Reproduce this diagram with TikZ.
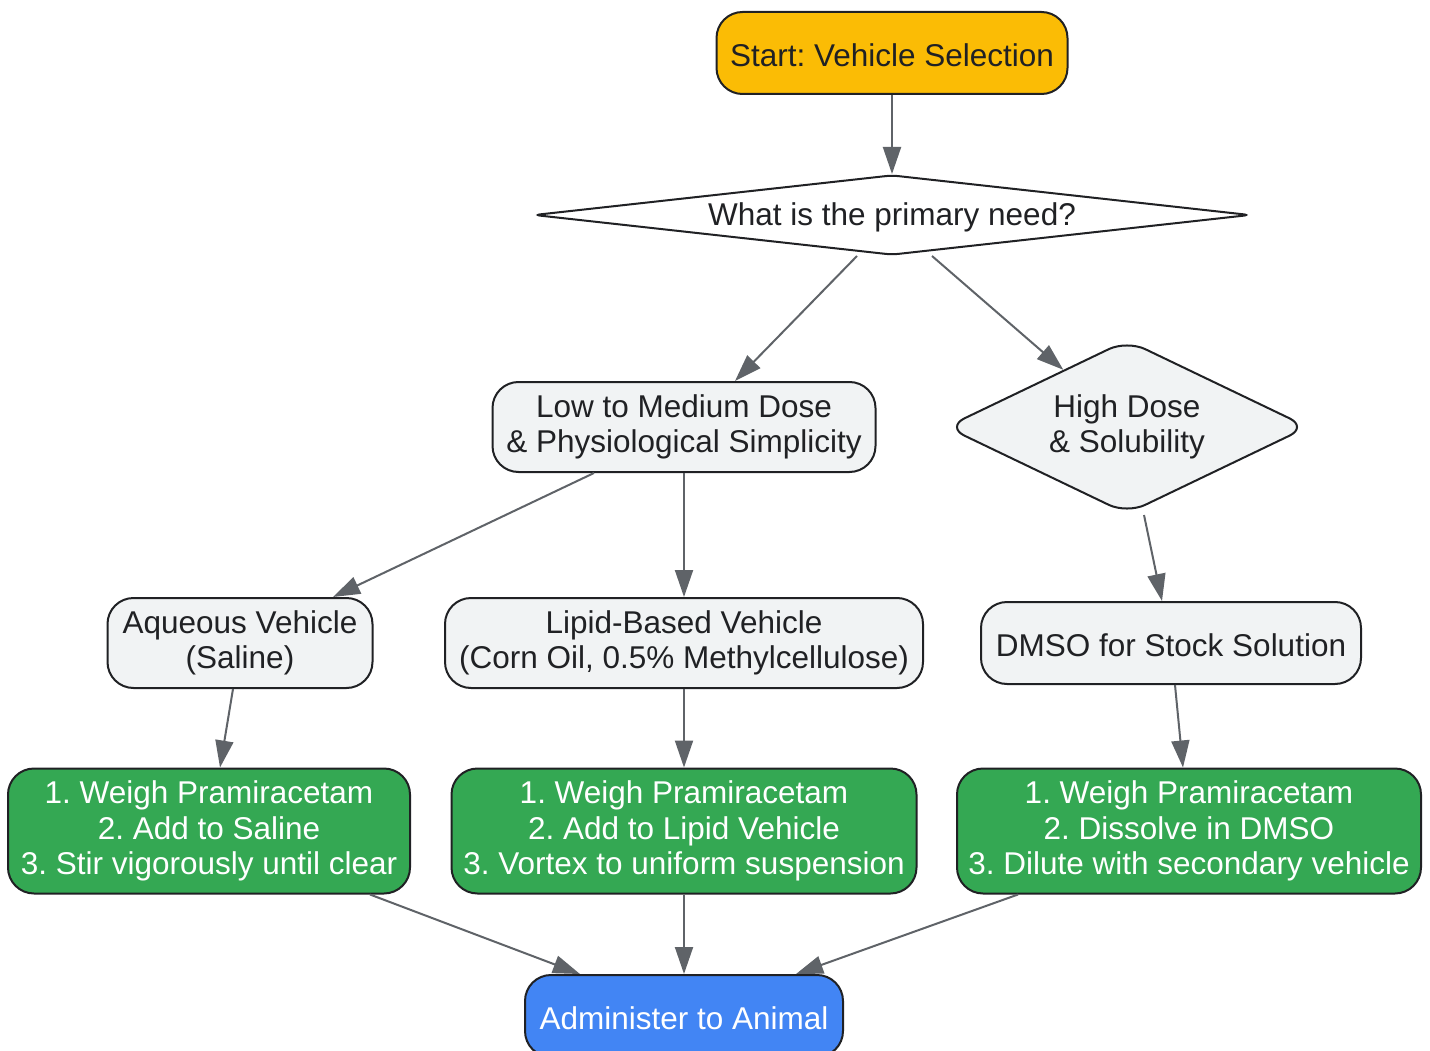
\documentclass[tikz,border=0pt]{standalone}
\usepackage{fontspec}
\setmainfont{Liberation Sans}
\usetikzlibrary{shapes.geometric,arrows.meta,calc}
\definecolor{amber}{HTML}{FBBC05}
\definecolor{leaf}{HTML}{34A853}
\definecolor{sky}{HTML}{4285F4}
\definecolor{pale}{HTML}{F1F3F4}
\definecolor{ink}{HTML}{202124}
\definecolor{wire}{HTML}{5F6368}
\begin{document}
\frenchspacing
\begin{tikzpicture}[x=1pt,y=-1pt]
\tikzstyle{every node}+=[inner sep=0pt, align=center, text=ink, font=\fontsize{31.5}{35.5}\selectfont, execute at begin node={\rule{0pt}{27pt}}]
\tikzstyle{box}=[rectangle, draw=ink, line width=2pt, fill=pale, rounded corners=26pt]
\tikzstyle{task}=[box, fill=leaf, text=white, minimum height=125pt]
\tikzstyle{dia}=[diamond, draw=ink, line width=2pt, fill=pale]
\tikzstyle{link}=[draw=wire, line width=2pt, -{Triangle[length=27pt,width=18pt]}]
\useasboundingbox (0,0) rectangle (1430,1051);
\node[box, fill=amber, minimum width=351pt, minimum height=82pt] (start) at (892,53) {Start: Vehicle Selection};
\node[dia, fill=white, aspect=9.1, minimum width=716pt, minimum height=80pt, rounded corners=6pt] (need) at (892,215) {What is the primary need?};
\node[box, minimum width=383pt, minimum height=90pt] (low) at (684,427) {Low to Medium Dose\\\& Physiological Simplicity};
\node[dia, aspect=2.09, minimum width=362pt, minimum height=174pt, rounded corners=20pt] (high) at (1127,427) {High Dose\\\& Solubility};
\node[box, minimum width=265pt, minimum height=90pt] (aqua) at (240,643) {Aqueous Vehicle\\(Saline)};
\node[box, minimum width=478pt, minimum height=90pt] (lipid) at (684,643) {Lipid-Based Vehicle\\(Corn Oil, 0.5\% Methylcellulose)};
\node[box, minimum width=380pt, minimum height=82pt] (dmso) at (1171,643) {DMSO for Stock Solution};
\node[task, minimum width=402pt] (prepa) at (209,831) {1. Weigh Pramiracetam\\2. Add to Saline\\3. Stir vigorously until clear};
\node[task, minimum width=465pt] (prepb) at (684,831) {1. Weigh Pramiracetam\\2. Add to Lipid Vehicle\\3. Vortex to uniform suspension};
\node[task, minimum width=464pt] (prepc) at (1189,831) {1. Weigh Pramiracetam\\2. Dissolve in DMSO\\3. Dilute with secondary vehicle};
\node[box, fill=sky, text=white, minimum width=318pt, minimum height=82pt] (dose) at (684,1016) {Administer to Animal};
\draw[link] (start.south) -- (need.north);
\draw[link] ($(need.south)+(-35,0)$) -- ($(low.north)+(51,0)$);
\draw[link] ($(need.south)+(40,0)$) -- ($(high.north)!0.35!(high.west)$);
\draw[link] ($(low.south)+(-90,0)$) -- ($(aqua.north)+(93,0)$);
\draw[link] (low.south) -- (lipid.north);
\draw[link] ($(high.south)+(17,0)$) -- ($(dmso.north)+(-9,0)$);
\draw[link] ($(aqua.south)+(-7,0)$) -- ($(prepa.north)+(11,0)$);
\draw[link] (lipid.south) -- (prepb.north);
\draw[link] ($(dmso.south)+(4,0)$) -- ($(prepc.north)+(-6,0)$);
\draw[link] ($(prepa.south)+(161,0)$) -- ($(dose.north)+(-104,0)$);
\draw[link] (prepb.south) -- (dose.north);
\draw[link] ($(prepc.south)+(-171,0)$) -- ($(dose.north)+(112,0)$);
\end{tikzpicture}
\end{document}
